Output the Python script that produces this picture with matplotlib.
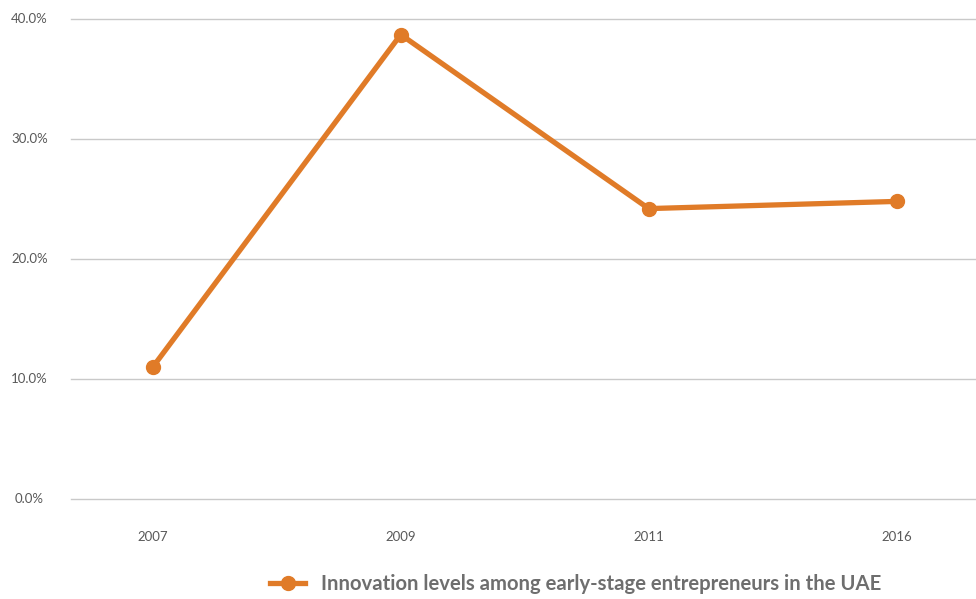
"""Innovation levels among early-stage entrepreneurs in the UAE."""

import matplotlib.pyplot as plt
from matplotlib.ticker import FuncFormatter

plt.rcParams["font.family"] = ["Lato", "DejaVu Sans"]

years = ["2007", "2009", "2011", "2016"]
innovation = [11.0, 38.7, 24.2, 24.8]
series_label = "Innovation levels among early-stage entrepreneurs in the UAE"

ORANGE = "#E07B28"
GRID = "#C9C9C9"
TEXT = "#595959"

fig = plt.figure(figsize=(9.76, 5.99), dpi=100)
ax = fig.add_axes([71 / 976, 100 / 599, 905 / 976, 480 / 599])

xs = range(len(years))
ax.plot(xs, innovation, color=ORANGE, lw=3.8, marker="o", ms=10,
        solid_joinstyle="miter", label=series_label, clip_on=False, zorder=3)

ax.set_xlim(-0.33, len(years) - 1 + 0.32)
ax.set_ylim(0, 40)
ax.set_yticks([0, 10, 20, 30, 40])
ax.yaxis.set_major_formatter(FuncFormatter(lambda v, _: f"{v:.1f}%"))
ax.set_xticks(list(xs))
ax.set_xticklabels(years)

ax.grid(axis="y", color=GRID, lw=1)
for gl in ax.get_ygridlines():
    gl.set_clip_on(False)
ax.set_axisbelow(True)
for s in ax.spines.values():
    s.set_visible(False)
ax.tick_params(axis="both", length=0, labelsize=9.5, labelcolor=TEXT)
ax.tick_params(axis="x", pad=23)
ax.tick_params(axis="y", pad=30)
for lbl in ax.get_yticklabels():
    lbl.set_horizontalalignment("center")
    lbl.set_verticalalignment("center")

leg = fig.legend(loc="center", bbox_to_anchor=(0.59, 0.025), frameon=False,
                 handlelength=1.7, handletextpad=0.8,
                 prop={"weight": "bold", "size": 14.6})
for t in leg.get_texts():
    t.set_color("#6E6E6E")

fig.savefig("out.png", dpi=100)
